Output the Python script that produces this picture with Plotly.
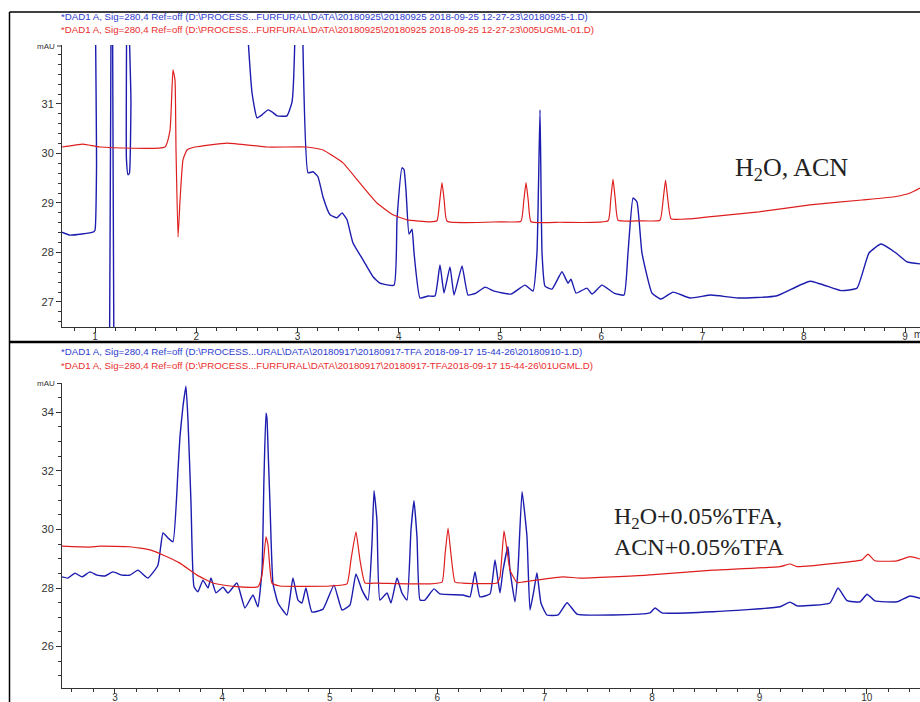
import plotly.graph_objects as go

# ---------------- data ----------------
# Top panel (H2O, ACN)
top_blue_t = [0.674, 0.753, 0.980, 1.000, 1.015, 1.025, 1.110, 1.150, 1.175, 1.215, 1.280, 1.310, 1.326, 1.340,
              1.355, 1.375, 2.490, 2.505, 2.551, 2.600, 2.649, 2.709, 2.748, 2.798, 2.896, 2.946, 2.977, 2.990,
              3.030, 3.050, 3.104, 3.153, 3.202, 3.252, 3.321, 3.390, 3.440, 3.489, 3.548, 3.647, 3.746, 3.815,
              3.953, 3.983, 4.032, 4.052, 4.072, 4.101, 4.131, 4.151, 4.210, 4.289, 4.358, 4.407, 4.447, 4.506,
              4.546, 4.625, 4.684, 4.763, 4.852, 4.941, 5.109, 5.247, 5.326, 5.365, 5.395, 5.415, 5.444, 5.514,
              5.612, 5.672, 5.701, 5.751, 5.859, 5.909, 6.007, 6.126, 6.225, 6.264, 6.314, 6.353, 6.402, 6.501,
              6.590, 6.709, 6.877, 7.084, 7.351, 7.726, 8.062, 8.368, 8.526, 8.644, 8.763, 8.911, 9.020, 9.148]
top_blue_v = [28.41, 28.35, 28.41, 28.45, 29.70, 45.0, 45.0, 15.0, 15.0, 45.0, 45.0, 29.90, 29.57, 29.60,
              31.00, 45.0, 45.0, 32.60, 31.22, 30.72, 30.78, 30.88, 30.84, 30.76, 30.76, 31.04, 32.60, 45.0,
              45.0, 32.60, 29.61, 29.63, 29.53, 29.12, 28.76, 28.70, 28.80, 28.66, 28.19, 27.85, 27.51, 27.38,
              27.34, 28.68, 29.71, 29.67, 29.24, 28.37, 28.47, 27.99, 27.08, 27.12, 27.12, 27.75, 27.18, 27.71,
              27.14, 27.73, 27.14, 27.18, 27.30, 27.22, 27.16, 27.34, 27.22, 27.99, 30.88, 27.99, 27.32, 27.26,
              27.61, 27.38, 27.46, 27.18, 27.28, 27.16, 27.34, 27.18, 27.14, 27.99, 29.10, 29.02, 27.99, 27.18,
              27.06, 27.20, 27.08, 27.14, 27.08, 27.12, 27.42, 27.23, 27.28, 27.99, 28.17, 27.99, 27.81, 27.77]

top_red_t = [0.674, 0.881, 1.049, 1.691, 1.741, 1.770, 1.790, 1.800, 1.820, 1.840, 1.869, 1.909, 1.988,
             2.304, 2.699, 3.094, 3.252, 3.449, 3.617, 3.785, 3.943, 4.081, 4.309, 4.378, 4.405, 4.427,
             4.449, 4.477, 5.000, 5.207, 5.235, 5.257, 5.279, 5.306, 5.593, 6.067, 6.094, 6.116, 6.138,
             6.166, 6.383, 6.580, 6.612, 6.635, 6.658, 6.689, 6.877, 7.212, 7.558, 8.062, 8.575, 8.911,
             9.050, 9.148]
top_red_v = [30.13, 30.19, 30.13, 30.13, 30.47, 31.69, 31.48, 30.07, 28.31, 29.06, 29.87, 30.07, 30.13,
             30.21, 30.13, 30.13, 30.07, 29.81, 29.40, 29.00, 28.76, 28.66, 28.62, 28.64, 29.05, 29.41,
             29.05, 28.63, 28.62, 28.63, 29.05, 29.41, 29.05, 28.62, 28.61, 28.64, 29.08, 29.48, 29.08,
             28.65, 28.64, 28.65, 29.08, 29.46, 29.06, 28.68, 28.68, 28.75, 28.82, 28.96, 29.06, 29.13,
             29.20, 29.30]

# Bottom panel (H2O+0.05%TFA, ACN+0.05%TFA)
bot_blue_t = [2.507, 2.562, 2.628, 2.693, 2.767, 2.832, 2.907, 2.981, 3.065, 3.140, 3.214, 3.307, 3.400,
              3.447, 3.494, 3.540, 3.587, 3.605, 3.633, 3.661, 3.680, 3.708, 3.736, 3.773, 3.819, 3.866,
              3.894, 3.940, 4.006, 4.052, 4.136, 4.210, 4.285, 4.331, 4.369, 4.387, 4.406, 4.415, 4.429,
              4.443, 4.471, 4.518, 4.601, 4.657, 4.704, 4.741, 4.778, 4.834, 4.937, 5.039, 5.114, 5.188,
              5.244, 5.300, 5.356, 5.393, 5.412, 5.439, 5.467, 5.533, 5.570, 5.626, 5.672, 5.719, 5.756,
              5.784, 5.812, 5.840, 5.886, 5.970, 6.026, 6.240, 6.305, 6.352, 6.398, 6.492, 6.538, 6.566,
              6.585, 6.613, 6.659, 6.678, 6.724, 6.752, 6.790, 6.836, 6.864, 6.901, 6.929, 6.966, 7.022,
              7.125, 7.209, 7.302, 7.637, 7.981, 8.028, 8.093, 8.568, 9.192, 9.285, 9.350, 9.657, 9.732,
              9.816, 9.937, 10.002, 10.076, 10.281, 10.402, 10.495]
bot_blue_v = [28.38, 28.34, 28.51, 28.38, 28.55, 28.44, 28.41, 28.55, 28.44, 28.44, 28.61, 28.34, 28.78,
              29.88, 29.71, 29.58, 32.03, 33.16, 34.19, 34.89, 33.73, 30.90, 28.04, 27.87, 28.27, 28.00,
              28.34, 27.84, 28.03, 27.83, 28.17, 27.32, 27.76, 27.36, 28.61, 31.69, 33.97, 33.80, 32.37,
              30.90, 28.17, 27.49, 27.08, 28.34, 27.59, 27.49, 28.00, 27.18, 27.28, 28.10, 27.25, 27.42,
              28.48, 27.93, 27.59, 29.54, 31.32, 30.32, 27.59, 27.83, 27.49, 28.34, 27.83, 27.59, 29.98,
              30.98, 29.74, 27.59, 27.59, 27.97, 27.80, 27.76, 27.70, 28.56, 27.70, 27.80, 28.96, 28.27,
              27.83, 28.61, 29.41, 28.61, 27.53, 28.61, 31.29, 29.75, 27.25, 27.93, 28.52, 27.49, 27.08,
              27.08, 27.50, 27.11, 27.08, 27.15, 27.32, 27.15, 27.19, 27.36, 27.52, 27.39, 27.49, 28.00,
              27.57, 27.53, 27.79, 27.56, 27.53, 27.73, 27.65]

bot_red_t = [2.507, 2.767, 2.860, 3.140, 3.326, 3.447, 3.605, 3.764, 3.912, 4.071, 4.331, 4.369, 4.406,
             4.425, 4.462, 4.536, 5.002, 5.160, 5.197, 5.244, 5.281, 5.328, 5.439, 5.933, 6.045, 6.073,
             6.101, 6.129, 6.166, 6.240, 6.557, 6.585, 6.622, 6.650, 6.678, 6.743, 6.864, 7.171, 7.330,
             7.953, 8.568, 9.192, 9.285, 9.350, 9.723, 9.955, 10.011, 10.076, 10.281, 10.402, 10.495]
bot_red_v = [29.43, 29.40, 29.43, 29.41, 29.30, 29.13, 28.85, 28.44, 28.17, 28.07, 28.04, 28.44, 29.75,
             29.47, 28.17, 28.07, 28.07, 28.14, 28.96, 29.92, 28.96, 28.17, 28.17, 28.14, 28.20, 29.13,
             30.05, 29.13, 28.20, 28.17, 28.17, 28.38, 29.95, 29.30, 28.61, 28.19, 28.24, 28.38, 28.34,
             28.44, 28.61, 28.73, 28.82, 28.73, 28.85, 28.96, 29.16, 28.93, 28.93, 29.07, 28.99]

top_x_ticks = [1, 2, 3, 4, 5, 6, 7, 8, 9]
top_y_ticks = [27, 28, 29, 30, 31]
bot_x_ticks = [3, 4, 5, 6, 7, 8, 9, 10]
bot_y_ticks = [26, 28, 30, 32, 34]

top_header_blue = r"*DAD1 A, Sig=280,4 Ref=off (D:\PROCESS...FURFURAL\DATA\20180925\20180925 2018-09-25 12-27-23\20180925-1.D)"
top_header_red = r"*DAD1 A, Sig=280,4 Ref=off (D:\PROCESS...FURFURAL\DATA\20180925\20180925 2018-09-25 12-27-23\005UGML-01.D)"
bot_header_blue = r"*DAD1 A, Sig=280,4 Ref=off (D:\PROCESS...URAL\DATA\20180917\20180917-TFA 2018-09-17 15-44-26\20180910-1.D)"
bot_header_red = r"*DAD1 A, Sig=280,4 Ref=off (D:\PROCESS...FURFURAL\DATA\20180917\20180917-TFA2018-09-17 15-44-26\01UGML.D)"

# ---------------- styling ----------------
W, H = 920, 702
BLUE = "rgb(28,28,175)"
RED = "rgb(222,30,30)"
HBLUE = "rgb(45,60,205)"
HRED = "rgb(235,45,45)"
AX = "#333333"
SANS = "Liberation Sans, Arial, sans-serif"
SERIF = "Liberation Serif, Times New Roman, serif"

def py(px):
    return 1 - px / H

def pxx(px):
    return px / W

fig = go.Figure()
for t, v, c, xa, ya, w in [
    (top_blue_t, top_blue_v, BLUE, "x", "y", 1.4),
    (top_red_t, top_red_v, RED, "x", "y", 1.2),
    (bot_blue_t, bot_blue_v, BLUE, "x2", "y2", 1.4),
    (bot_red_t, bot_red_v, RED, "x2", "y2", 1.2),
]:
    fig.add_trace(go.Scatter(x=t, y=v, mode="lines",
                             line=dict(color=c, width=w, shape="spline", smoothing=0.4),
                             xaxis=xa, yaxis=ya, showlegend=False, hoverinfo="skip"))

def xaxis(rng, ticks, anchor, dom_x):
    return dict(domain=dom_x, range=rng, anchor=anchor, tickmode="array", tickvals=ticks,
                ticks="outside", ticklen=5, tickcolor=AX, tickwidth=1, showline=True,
                linecolor=AX, linewidth=1, showgrid=False, zeroline=False,
                ticklabelstandoff=-5,
                minor=dict(tick0=0, dtick=0.2, ticks="outside", ticklen=3, tickcolor=AX, showgrid=False),
                tickfont=dict(family=SANS, size=10, color=AX))

def yaxis(rng, ticks, anchor, dom_y, minor):
    return dict(domain=dom_y, range=rng, anchor=anchor, tickmode="array", tickvals=ticks,
                ticks="outside", ticklen=5, tickcolor=AX, tickwidth=1, showline=True,
                linecolor=AX, linewidth=1, showgrid=False, zeroline=False,
                minor=dict(tick0=0, dtick=minor, ticks="outside", ticklen=3, tickcolor=AX, showgrid=False),
                tickfont=dict(family=SANS, size=11, color=AX))

dom_x = [pxx(62), 1.0]
fig.update_layout(
    width=W, height=H, margin=dict(l=0, r=0, t=0, b=0),
    paper_bgcolor="white", plot_bgcolor="white",
    xaxis=xaxis([0.674, 9.148], top_x_ticks, "y", dom_x),
    yaxis=yaxis([26.495, 32.19], top_y_ticks, "x", [py(327), py(45)], 0.2),
    xaxis2=xaxis([2.507, 10.495], bot_x_ticks, "y2", dom_x),
    yaxis2=yaxis([24.587, 35.0], bot_y_ticks, "x2", [py(688), py(383)], 0.5),
)

ann = [
    dict(text=top_header_blue, x=pxx(60), y=py(17), color=HBLUE, size=9.7, fam=SANS),
    dict(text=top_header_red, x=pxx(60), y=py(30), color=HRED, size=9.7, fam=SANS),
    dict(text=bot_header_blue, x=pxx(60), y=py(351), color=HBLUE, size=9.7, fam=SANS),
    dict(text=bot_header_red, x=pxx(60), y=py(365), color=HRED, size=9.7, fam=SANS),
    dict(text="H<sub>2</sub>O, ACN", x=pxx(734), y=py(169), color="#222", size=26, fam=SERIF),
    dict(text="H<sub>2</sub>O+0.05%TFA,", x=pxx(613), y=py(518), color="#222", size=24, fam=SERIF),
    dict(text="ACN+0.05%TFA", x=pxx(613), y=py(547), color="#222", size=24, fam=SERIF),
    dict(text="mAU", x=pxx(36), y=py(46), color=AX, size=8, fam=SANS),
    dict(text="mAU", x=pxx(36), y=py(383), color=AX, size=8, fam=SANS),
    dict(text="min", x=pxx(913), y=py(335), color=AX, size=10, fam=SANS),
]
for a in ann:
    fig.add_annotation(text=a["text"], x=a["x"], y=a["y"], xref="paper", yref="paper",
                       xanchor="left", yanchor="middle", showarrow=False, borderpad=0,
                       font=dict(family=a["fam"], size=a["size"], color=a["color"]))

# frame lines of the screenshot window
line = dict(color="black", width=1.5)
fig.add_shape(type="line", xref="paper", yref="paper", x0=pxx(9.5), x1=1, y0=py(12), y1=py(12), line=line)
fig.add_shape(type="line", xref="paper", yref="paper", x0=pxx(9.5), x1=pxx(9.5), y0=0, y1=py(12), line=line)
fig.add_shape(type="line", xref="paper", yref="paper", x0=pxx(9.5), x1=1, y0=py(342), y1=py(342),
              line=dict(color="black", width=2.5))
# top-of-axis ticks next to the mAU labels
fig.add_shape(type="line", xref="paper", yref="paper", x0=pxx(57), x1=pxx(62), y0=py(46), y1=py(46),
              line=dict(color=AX, width=1))
fig.add_shape(type="line", xref="paper", yref="paper", x0=pxx(57), x1=pxx(62), y0=py(383.5), y1=py(383.5),
              line=dict(color=AX, width=1))

fig.write_html("out.html", config={"displayModeBar": False},
               post_script="document.body.style.margin='0px';document.body.style.padding='0px';")
